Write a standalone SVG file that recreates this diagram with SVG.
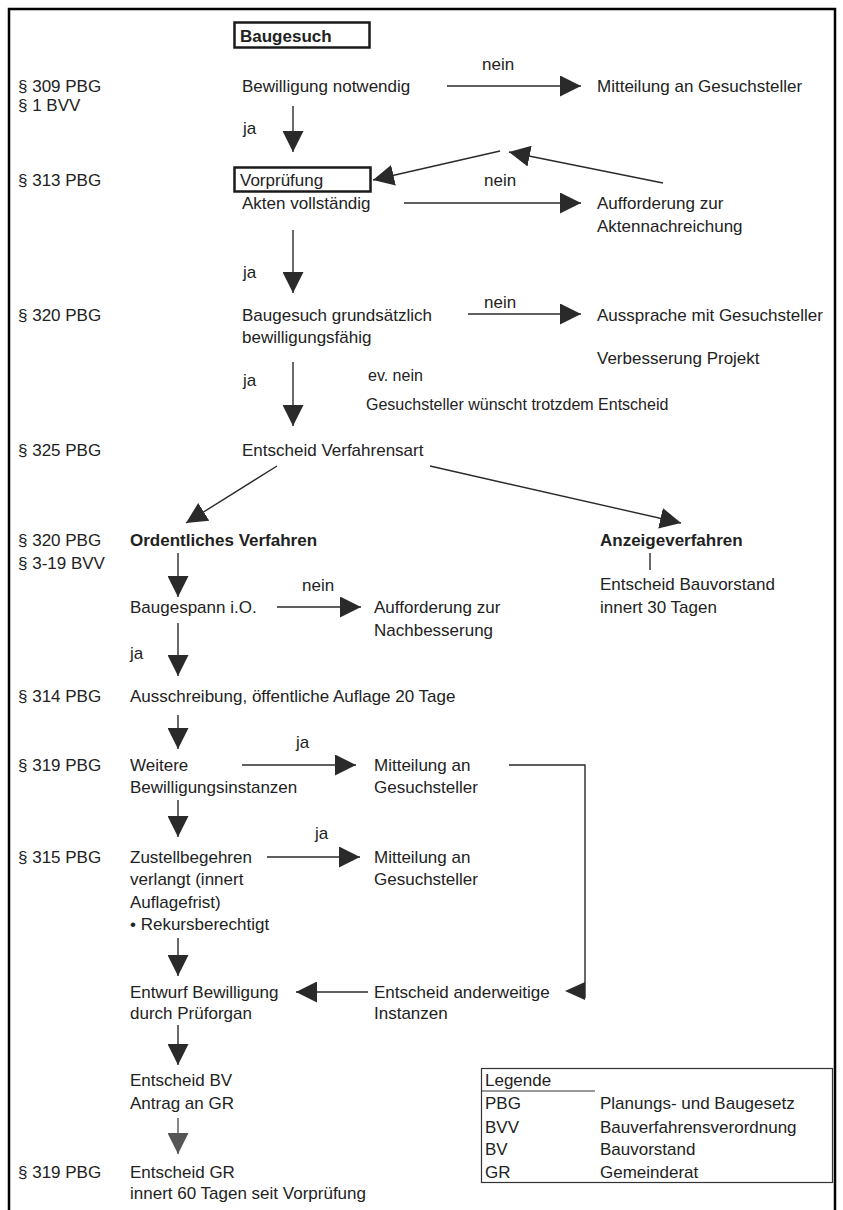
<svg xmlns="http://www.w3.org/2000/svg" width="843" height="1210" viewBox="0 0 843 1210">
<style>
text{font-family:"Liberation Sans",Arial,Helvetica,sans-serif;font-size:17px;fill:#222}
.b{font-weight:bold}
.s{font-size:16px}
.ln{stroke:#2a2a2a;stroke-width:1.4;fill:none}
.ar{stroke:#2a2a2a;stroke-width:1.4;fill:none;marker-end:url(#ah)}
.arg{stroke:#555;stroke-width:1.4;fill:none;marker-end:url(#ahg)}
.box{fill:none;stroke:#1a1a1a;stroke-width:2.5}
.lg{fill:none;stroke:#333;stroke-width:1.2}
</style>
<defs>
<marker id="ah" viewBox="0 0 20 20" refX="20" refY="10" markerWidth="21" markerHeight="21" markerUnits="userSpaceOnUse" orient="auto"><path d="M0,0 L20,10 L0,20 z" fill="#2a2a2a"/></marker>
<marker id="ahg" viewBox="0 0 20 20" refX="20" refY="10" markerWidth="21" markerHeight="21" markerUnits="userSpaceOnUse" orient="auto"><path d="M0,0 L20,10 L0,20 z" fill="#555"/></marker>
</defs>
<rect width="843" height="1210" fill="#fff"/>
<path d="M9,1210 V9 H835 V1210" fill="none" stroke="#000" stroke-width="2.5"/>

<g id="paragraphs">
<text x="18" y="92">§ 309 PBG</text>
<text x="18" y="111">§ 1 BVV</text>
<text x="18" y="186">§ 313 PBG</text>
<text x="18" y="321">§ 320 PBG</text>
<text x="18" y="456">§ 325 PBG</text>
<text x="18" y="546">§ 320 PBG</text>
<text x="18" y="569">§ 3-19 BVV</text>
<text x="18" y="702">§ 314 PBG</text>
<text x="18" y="771">§ 319 PBG</text>
<text x="18" y="863">§ 315 PBG</text>
<text x="18" y="1178">§ 319 PBG</text>
</g>

<g id="n-baugesuch"><rect class="box" x="234.5" y="22.5" width="135" height="25"/><text class="b" x="240" y="42">Baugesuch</text></g>
<g id="n-bewilligung"><text x="242" y="92">Bewilligung notwendig</text></g>
<g id="n-mitteilung1"><text x="597" y="92">Mitteilung an Gesuchsteller</text></g>
<g id="n-vorpruefung"><rect class="box" x="234.5" y="167.5" width="136" height="24"/><text x="240" y="186">Vorprüfung</text><text x="242" y="209">Akten vollständig</text></g>
<g id="n-aufforderung1"><text x="597" y="209">Aufforderung zur</text><text x="597" y="232">Aktennachreichung</text></g>
<g id="n-grundsaetzlich"><text x="242" y="321">Baugesuch grundsätzlich</text><text x="242" y="343">bewilligungsfähig</text></g>
<g id="n-aussprache"><text x="597" y="321">Aussprache mit Gesuchsteller</text><text x="597" y="364">Verbesserung Projekt</text></g>
<g id="n-evnein"><text class="s" x="368" y="381">ev. nein</text><text class="s" x="366" y="410">Gesuchsteller wünscht trotzdem Entscheid</text></g>
<g id="n-verfahrensart"><text x="242" y="456">Entscheid Verfahrensart</text></g>
<g id="n-ordentlich"><text class="b" x="130" y="546">Ordentliches Verfahren</text></g>
<g id="n-anzeige"><text class="b" x="600" y="546">Anzeigeverfahren</text><text x="600" y="590">Entscheid Bauvorstand</text><text x="600" y="613">innert 30 Tagen</text></g>
<g id="n-baugespann"><text x="130" y="613">Baugespann i.O.</text></g>
<g id="n-aufforderung2"><text x="374" y="613">Aufforderung zur</text><text x="374" y="636">Nachbesserung</text></g>
<g id="n-ausschreibung"><text x="130" y="702">Ausschreibung, öffentliche Auflage 20 Tage</text></g>
<g id="n-weitere"><text x="130" y="771">Weitere</text><text x="130" y="793">Bewilligungsinstanzen</text></g>
<g id="n-mitteilung2"><text x="374" y="771">Mitteilung an</text><text x="374" y="793">Gesuchsteller</text></g>
<g id="n-zustell"><text x="130" y="863">Zustellbegehren</text><text x="130" y="885">verlangt (innert</text><text x="130" y="908">Auflagefrist)</text><text x="130" y="930">• Rekursberechtigt</text></g>
<g id="n-mitteilung3"><text x="374" y="863">Mitteilung an</text><text x="374" y="885">Gesuchsteller</text></g>
<g id="n-entwurf"><text x="130" y="998">Entwurf Bewilligung</text><text x="130" y="1019">durch Prüforgan</text></g>
<g id="n-anderweitig"><text x="374" y="998">Entscheid anderweitige</text><text x="374" y="1019">Instanzen</text></g>
<g id="n-entscheidbv"><text x="130" y="1086">Entscheid BV</text><text x="130" y="1109">Antrag an GR</text></g>
<g id="n-entscheidgr"><text x="130" y="1178">Entscheid GR</text><text x="130" y="1199">innert 60 Tagen seit Vorprüfung</text></g>

<g id="connectors">
<line class="ar" x1="447" y1="86" x2="581" y2="86"/>
<line class="ar" x1="293" y1="106" x2="293" y2="152"/>
<line class="ar" x1="404" y1="203" x2="581" y2="203"/>
<line class="ar" x1="663" y1="183" x2="509" y2="152"/>
<line class="ar" x1="500" y1="151" x2="373" y2="180"/>
<line class="ar" x1="293" y1="230" x2="293" y2="293"/>
<line class="ar" x1="468" y1="314" x2="581" y2="314"/>
<line class="ar" x1="293" y1="362" x2="293" y2="426"/>
<line class="ar" x1="277" y1="466" x2="186" y2="523"/>
<line class="ar" x1="430" y1="466" x2="681" y2="523"/>
<line class="ln" x1="650" y1="553" x2="650" y2="570"/>
<line class="ar" x1="178" y1="553" x2="178" y2="597"/>
<line class="ar" x1="277" y1="607" x2="361" y2="607"/>
<line class="ar" x1="178" y1="623" x2="178" y2="676"/>
<line class="ar" x1="178" y1="715" x2="178" y2="749"/>
<line class="ar" x1="242" y1="765" x2="356" y2="765"/>
<path class="ln" d="M509,765 H585 V998"/>
<path d="M585,982 L565,991 L585,1000 z" fill="#2a2a2a"/>
<line class="ar" x1="178" y1="800" x2="178" y2="837"/>
<line class="ar" x1="267" y1="857" x2="360" y2="857"/>
<line class="ar" x1="178" y1="938" x2="178" y2="976"/>
<line class="ar" x1="368" y1="992" x2="296" y2="992"/>
<line class="ar" x1="178" y1="1025" x2="178" y2="1065"/>
<line class="arg" x1="178" y1="1118" x2="178" y2="1154"/>
<text x="482" y="70">nein</text>
<text x="243" y="134">ja</text>
<text x="484" y="186">nein</text>
<text x="243" y="278">ja</text>
<text x="484" y="308">nein</text>
<text x="243" y="386">ja</text>
<text x="302" y="591">nein</text>
<text x="130" y="659">ja</text>
<text x="296" y="748">ja</text>
<text x="315" y="839">ja</text>
</g>

<g id="legend">
<rect class="lg" x="481.5" y="1068.5" width="351" height="114"/>
<line class="lg" x1="481" y1="1091" x2="595" y2="1091"/>
<text x="485" y="1086">Legende</text>
<text x="485" y="1109">PBG</text><text x="600" y="1109">Planungs- und Baugesetz</text>
<text x="485" y="1133">BVV</text><text x="600" y="1133">Bauverfahrensverordnung</text>
<text x="485" y="1155">BV</text><text x="600" y="1155">Bauvorstand</text>
<text x="485" y="1178">GR</text><text x="600" y="1178">Gemeinderat</text>
</g>
</svg>
